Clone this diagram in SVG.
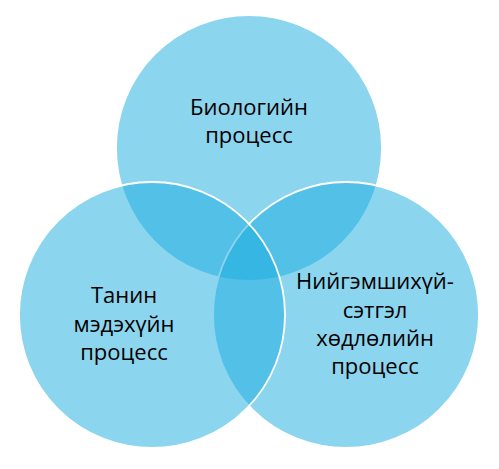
<svg xmlns="http://www.w3.org/2000/svg" width="499" height="469" viewBox="0 0 499 469">
<style>
.c{fill:#1AABE0;fill-opacity:0.5;stroke:#FFFFFF;stroke-width:1.8}
.t{font-family:"Open Sans","Liberation Sans",sans-serif;font-size:22px;fill:#000000;text-anchor:middle}
</style>
<rect width="499" height="469" fill="#FFFFFF"/>
<g id="bio">
<circle class="c" cx="249" cy="148" r="133"/>
<text class="t" x="249" y="115">Биологийн</text>
<text class="t" x="249" y="143">процесс</text>
</g>
<g id="social">
<circle class="c" cx="346" cy="315" r="133"/>
<text class="t" x="375" y="289">Нийгэмшихүй-</text>
<text class="t" x="375" y="318">сэтгэл</text>
<text class="t" x="375" y="346">хөдлөлийн</text>
<text class="t" x="375" y="374">процесс</text>
</g>
<g id="cognitive">
<circle class="c" cx="152" cy="315" r="133"/>
<text class="t" x="124" y="303">Танин</text>
<text class="t" x="124" y="332">мэдэхүйн</text>
<text class="t" x="124" y="360">процесс</text>
</g>
<g id="connectors"></g>
</svg>
